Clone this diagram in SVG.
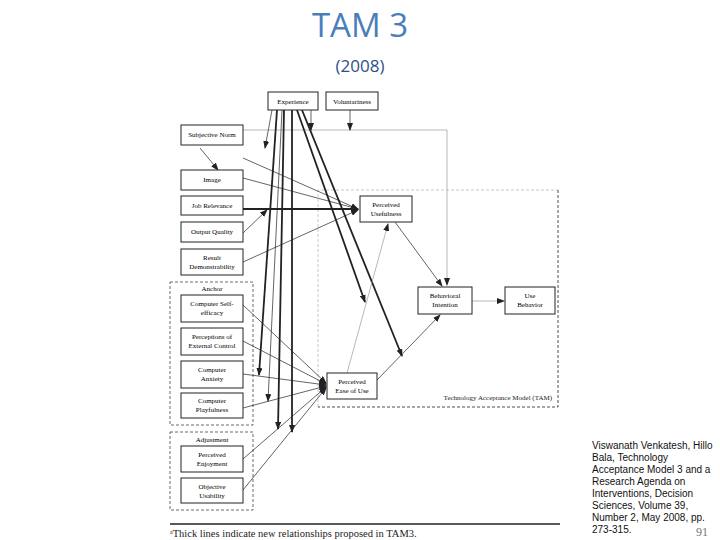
<svg xmlns="http://www.w3.org/2000/svg" width="720" height="540" viewBox="0 0 720 540">
<style>
.b rect{fill:#fff;stroke:#222;stroke-width:1}
.t{font-family:"Liberation Serif",serif;font-size:7px;fill:#000;text-anchor:middle}
.c line,.c polyline{stroke:#222;stroke-width:0.7;fill:none}
.c .k{stroke-width:1.8}
.c .g{stroke:#999}
.d{fill:none;stroke-dasharray:3 2;stroke-width:0.8}
</style>
<defs><marker id="a" markerWidth="8" markerHeight="6" refX="7" refY="3" orient="auto" markerUnits="userSpaceOnUse"><path d="M0,0L8,3L0,6z" fill="#222"/></marker></defs>
<rect width="720" height="540" fill="#fff"/>
<text x="360" y="37" font-family="Open Sans,sans-serif" font-size="33" fill="#4a7ebb" text-anchor="middle">TAM 3</text>
<text x="360" y="72" font-family="Open Sans,sans-serif" font-size="17" fill="#2e4f87" text-anchor="middle">(2008)</text>
<rect class="d" x="170" y="282" width="83" height="143" stroke="#444"/>
<rect class="d" x="170" y="432" width="83" height="78" stroke="#444"/>
<polyline class="d" points="318,407 318,190 558,190" stroke="#bbb"/>
<polyline class="d" points="558,190 558,407 318,407" stroke="#222"/>
<g class="c">
<polyline class="g" points="243,130 447,130 447,285" marker-end="url(#a)"/>
<line x1="311" y1="110" x2="311" y2="130" marker-end="url(#a)"/>
<line x1="350" y1="110" x2="350" y2="130" marker-end="url(#a)"/>
<line x1="272" y1="110" x2="265" y2="148" marker-end="url(#a)"/>
<line class="k" x1="277" y1="110" x2="259" y2="375" marker-end="url(#a)"/>
<line x1="282" y1="110" x2="268" y2="401" marker-end="url(#a)"/>
<line class="k" x1="284" y1="110" x2="278" y2="429" marker-end="url(#a)"/>
<line class="k" x1="292" y1="110" x2="292" y2="432" marker-end="url(#a)"/>
<line class="k" x1="297" y1="110" x2="365" y2="302" marker-end="url(#a)"/>
<line class="k" x1="302" y1="110" x2="402" y2="356" marker-end="url(#a)"/>
<line x1="200" y1="148" x2="218" y2="170" marker-end="url(#a)"/>
<line x1="243" y1="158" x2="358" y2="209" marker-end="url(#a)"/>
<line x1="243" y1="178" x2="358" y2="209" marker-end="url(#a)"/>
<line class="k" x1="243" y1="209" x2="358" y2="209" marker-end="url(#a)"/>
<line x1="243" y1="233" x2="267" y2="210" marker-end="url(#a)"/>
<line x1="243" y1="262" x2="358" y2="210" marker-end="url(#a)"/>
<line x1="395" y1="222" x2="442" y2="286" marker-end="url(#a)"/>
<line class="g" x1="472" y1="301" x2="504" y2="301" marker-end="url(#a)"/>
<line x1="377" y1="380" x2="440" y2="315" marker-end="url(#a)"/>
<line class="g" x1="347" y1="373" x2="388" y2="224" marker-end="url(#a)"/>
<line x1="243" y1="305" x2="326" y2="383" marker-end="url(#a)"/>
<line x1="243" y1="341" x2="326" y2="384" marker-end="url(#a)"/>
<line x1="243" y1="374" x2="326" y2="385" marker-end="url(#a)"/>
<line x1="243" y1="408" x2="326" y2="386" marker-end="url(#a)" stroke-width="1.2"/>
<line x1="243" y1="459" x2="326" y2="387" marker-end="url(#a)"/>
<line x1="243" y1="490" x2="326" y2="388" marker-end="url(#a)"/>
</g>
<g class="b">
<g id="exp"><rect x="268" y="92" width="50" height="18"/><text class="t" x="293" y="104">Experience</text></g>
<g id="vol"><rect x="326" y="92" width="52" height="18"/><text class="t" x="352" y="104">Voluntariness</text></g>
<g id="sn"><rect x="181" y="125" width="62" height="20"/><text class="t" x="212" y="137">Subjective Norm</text></g>
<g id="img"><rect x="181" y="170" width="62" height="20"/><text class="t" x="212" y="182">Image</text></g>
<g id="jr"><rect x="181" y="196" width="62" height="19"/><text class="t" x="212" y="208">Job Relevance</text></g>
<g id="oq"><rect x="181" y="222" width="62" height="20"/><text class="t" x="212" y="234">Output Quality</text></g>
<g id="rd"><rect x="181" y="249" width="62" height="26"/><text class="t" x="212" y="260">Result</text><text class="t" x="212" y="269">Demonstrability</text></g>
<text class="t" x="212" y="291">Anchor</text>
<g id="cse"><rect x="181" y="295" width="62" height="27"/><text class="t" x="212" y="306">Computer Self-</text><text class="t" x="212" y="315">efficacy</text></g>
<g id="pec"><rect x="181" y="328" width="62" height="27"/><text class="t" x="212" y="339">Perceptions of</text><text class="t" x="212" y="348">External Control</text></g>
<g id="ca"><rect x="181" y="361" width="62" height="27"/><text class="t" x="212" y="372">Computer</text><text class="t" x="212" y="381">Anxiety</text></g>
<g id="cp"><rect x="181" y="393" width="62" height="25"/><text class="t" x="212" y="403">Computer</text><text class="t" x="212" y="412">Playfulness</text></g>
<text class="t" x="212" y="442">Adjustment</text>
<g id="pe"><rect x="181" y="446" width="62" height="26"/><text class="t" x="212" y="457">Perceived</text><text class="t" x="212" y="466">Enjoyment</text></g>
<g id="ou"><rect x="181" y="478" width="62" height="25"/><text class="t" x="212" y="489">Objective</text><text class="t" x="212" y="498">Usability</text></g>
<g id="pu"><rect x="360" y="196" width="52" height="26"/><text class="t" x="386" y="207">Perceived</text><text class="t" x="386" y="216">Usefulness</text></g>
<g id="bi"><rect x="418" y="287" width="54" height="27"/><text class="t" x="445" y="298">Behavioral</text><text class="t" x="445" y="307">Intention</text></g>
<g id="ub"><rect x="505" y="287" width="50" height="27"/><text class="t" x="530" y="298">Use</text><text class="t" x="530" y="307">Behavior</text></g>
<g id="peou"><rect x="327" y="373" width="50" height="26"/><text class="t" x="352" y="384">Perceived</text><text class="t" x="352" y="393">Ease of Use</text></g>
</g>
<text x="552" y="400" font-family="Liberation Serif,serif" font-size="7" fill="#222" text-anchor="end">Technology Acceptance Model (TAM)</text>
<line x1="170" y1="524" x2="560" y2="524" stroke="#222" stroke-width="1.5"/>
<text x="170" y="537" font-family="Liberation Serif,serif" font-size="10.5" fill="#222"><tspan font-size="6" dy="-3">a</tspan><tspan dy="3">Thick lines indicate new relationships proposed in TAM3.</tspan></text>
<g font-family="Liberation Sans,sans-serif" font-size="10" fill="#111">
<text x="592" y="449">Viswanath Venkatesh, Hillo</text>
<text x="592" y="461">Bala, Technology</text>
<text x="592" y="473">Acceptance Model 3 and a</text>
<text x="592" y="485">Research Agenda on</text>
<text x="592" y="497">Interventions, Decision</text>
<text x="592" y="509">Sciences, Volume 39,</text>
<text x="592" y="521">Number 2, May 2008, pp.</text>
<text x="592" y="533">273-315.</text>
</g>
<text x="708" y="536" font-family="Liberation Serif,serif" font-size="12" fill="#777" text-anchor="end">91</text>
</svg>
